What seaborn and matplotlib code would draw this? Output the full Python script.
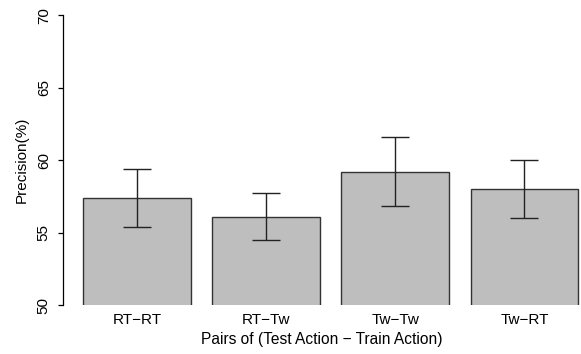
import numpy as np
import pandas as pd
import matplotlib
matplotlib.use("Agg")
import matplotlib.pyplot as plt
import seaborn as sns

# values
pairs = ["RT\u2212RT", "RT\u2212Tw", "Tw\u2212Tw", "Tw\u2212RT"]
precision = [57.4, 56.1, 59.2, 58.0]
err = [2.0, 1.6, 2.4, 2.0]

df = pd.DataFrame({"pair": pairs, "precision": precision})

sns.set_style("white")
plt.rcParams["font.family"] = ["Liberation Sans", "DejaVu Sans"]
plt.rcParams["text.color"] = "black"
plt.rcParams["axes.labelcolor"] = "black"
plt.rcParams["xtick.color"] = "black"
plt.rcParams["ytick.color"] = "black"

fig = plt.figure(figsize=(5.81, 3.54), dpi=100)
ax = fig.add_axes([0.108, 0.1384, 0.892, 0.819])

sns.barplot(data=df, x="pair", y="precision", color="#BEBEBE", saturation=1,
            edgecolor="#333333", linewidth=1.0, width=0.833, ax=ax)
ax.errorbar(np.arange(len(pairs)), precision, yerr=err, fmt="none",
            ecolor="#222222", elinewidth=1.0, capsize=10.4, capthick=1.0)

ax.set_ylim(50, 70)
ax.set_xlim(-0.574, 3.438)
ax.set_yticks([50, 55, 60, 65, 70])
ax.set_yticklabels(["50", "55", "60", "65", "70"], rotation=90, va="center")
for s in ["top", "right", "bottom"]:
    ax.spines[s].set_visible(False)
ax.spines["left"].set_color("black")
ax.spines["left"].set_linewidth(0.9)
ax.tick_params(axis="y", left=True, length=3.6, width=0.9, color="black",
               pad=5, labelsize=11, labelcolor="black")
ax.tick_params(axis="x", bottom=False, length=0, pad=6, labelsize=11,
               labelcolor="black")
ax.set_xlabel("Pairs of (Test Action \u2212 Train Action)", fontsize=11.2, labelpad=3)
ax.set_ylabel("Precision(%)", fontsize=11, labelpad=6)

fig.savefig("out.png", dpi=100)
